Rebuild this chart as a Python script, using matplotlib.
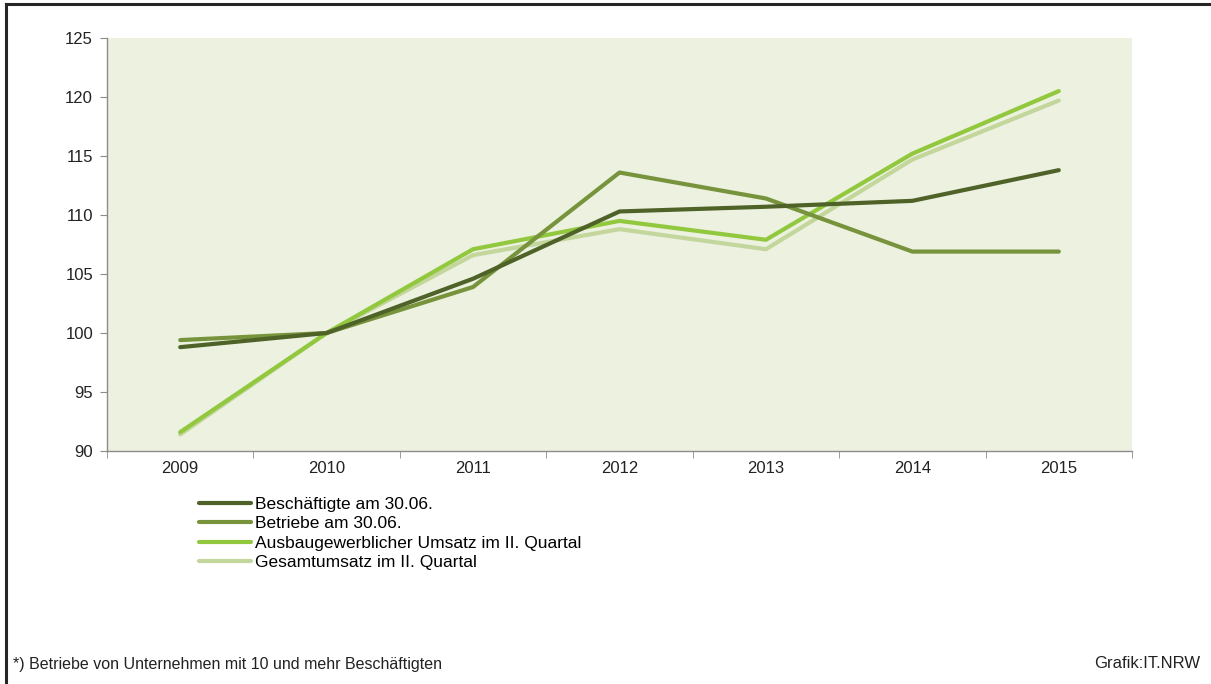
import matplotlib
matplotlib.use("Agg")
import matplotlib.pyplot as plt
from matplotlib.lines import Line2D
import numpy as np

plt.rcParams['font.family'] = ['Liberation Sans', 'DejaVu Sans']

years = ["2009", "2010", "2011", "2012", "2013", "2014", "2015"]
beschaeftigte = [98.8, 100.0, 104.6, 110.3, 110.7, 111.2, 113.8]
betriebe = [99.4, 100.0, 103.9, 113.6, 111.4, 106.9, 106.9]
ausbau_umsatz = [91.6, 100.0, 107.1, 109.5, 107.9, 115.2, 120.5]
gesamt_umsatz = [91.4, 100.0, 106.6, 108.8, 107.1, 114.7, 119.7]

labels = ["Beschäftigte am 30.06.", "Betriebe am 30.06.",
          "Ausbaugewerblicher Umsatz im II. Quartal", "Gesamtumsatz im II. Quartal"]
colors = ["#4f6228", "#77933c", "#92c83e", "#c3d69b"]
series = [beschaeftigte, betriebe, ausbau_umsatz, gesamt_umsatz]

fig = plt.figure(figsize=(12.11, 6.84), dpi=100)
ax = fig.add_axes([107/1211, 1-451/684, (1132-107)/1211, (451-38)/684])
ax.set_facecolor("#ecf1e0")

x = np.arange(len(years))
for i in [3, 2, 1, 0]:
    ax.plot(x, series[i], color=colors[i], lw=3.0, solid_capstyle='round',
            solid_joinstyle='round', zorder=3)

ax.set_xlim(-0.5, len(years) - 0.5)
ax.set_ylim(90, 125)
ax.set_yticks(np.arange(90, 126, 5))
ax.set_xticks(x)
ax.set_xticklabels(years)
ax.set_xticks(np.arange(-0.5, len(years), 1), minor=True)
ax.tick_params(axis='x', which='major', length=0, pad=7, labelsize=12, labelcolor='#222222')
ax.tick_params(axis='x', which='minor', length=5, color='#8c8c8c', direction='out')
ax.tick_params(axis='y', length=5, color='#8c8c8c', direction='out', pad=5,
               labelsize=12, labelcolor='#222222')
for s in ['top', 'right']:
    ax.spines[s].set_visible(False)
for s in ['left', 'bottom']:
    ax.spines[s].set_color('#8c8c8c')
    ax.spines[s].set_linewidth(1.0)

handles = [Line2D([], [], color=c, lw=3.0, solid_capstyle='round') for c in colors]
fig.legend(handles, labels, loc='upper left', bbox_to_anchor=(199/1211, 1-497/684),
           frameon=False, fontsize=12.5, handlelength=3.0, handletextpad=0.2,
           labelspacing=0.24, borderpad=0, borderaxespad=0)

fig.text(13/1211, 1-664/684, "*) Betriebe von Unternehmen mit 10 und mehr Beschäftigten",
         fontsize=11.5, va='center', ha='left', color='#222222')
fig.text(1200/1211, 1-664/684, "Grafik:IT.NRW", fontsize=12, va='center', ha='right',
         color='#222222')

# frame lines (top and left)
fig.add_artist(Line2D([6/1211, 1], [1-4/684, 1-4/684], color='#262626', lw=2.2,
                      transform=fig.transFigure))
fig.add_artist(Line2D([6/1211, 6/1211], [0, 1-4/684], color='#262626', lw=2.2,
                      transform=fig.transFigure))

fig.savefig("out.png", dpi=100)
